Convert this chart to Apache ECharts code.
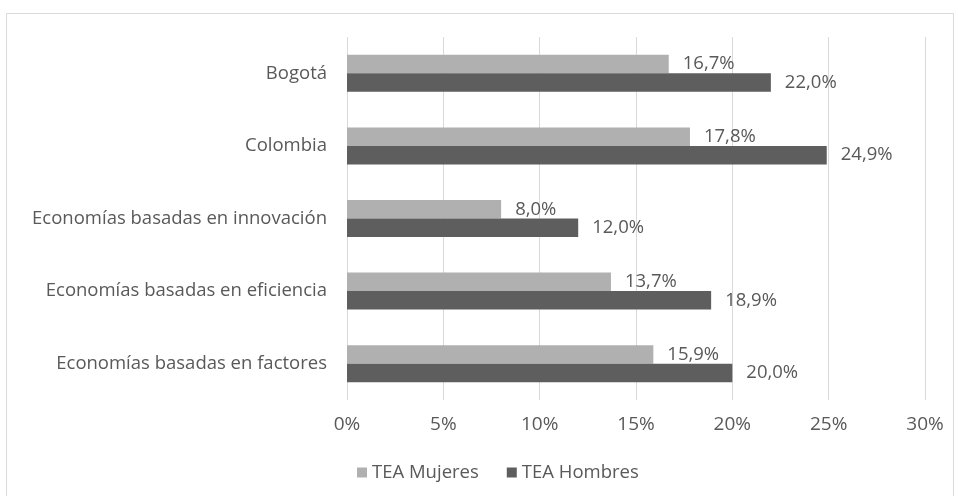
<!DOCTYPE html>
<html>
<head>
<meta charset="utf-8">
<script src="https://cdn.jsdelivr.net/npm/echarts@6/dist/echarts.min.js"></script>
<style>
  html, body { margin: 0; padding: 0; background: #ffffff; }
  #chart { width: 958px; height: 496px; }
</style>
</head>
<body>
<div id="chart"></div>
<script>
// Categories, listed top to bottom
const categories = [
  'Bogotá',
  'Colombia',
  'Economías basadas en innovación',
  'Economías basadas en eficiencia',
  'Economías basadas en factores'
];
// TEA (%) by sex
const teaMujeres = [16.7, 17.8, 8.0, 13.7, 15.9];
const teaHombres = [22.0, 24.9, 12.0, 18.9, 20.0];
const seriesNames = ['TEA Mujeres', 'TEA Hombres'];
// X axis ticks (%)
const xTicks = [0, 5, 10, 15, 20, 25, 30];

const fontFamily = '"Open Sans", "Noto Sans", sans-serif';
const textColor = '#595959';

const fmtPct = v => v.toFixed(1).replace('.', ',') + '%';

const chart = echarts.init(document.getElementById('chart'), null, { renderer: 'canvas' });

const barLabel = {
  show: true,
  position: 'right',
  distance: 14,
  color: textColor,
  fontFamily: fontFamily,
  fontSize: 18.5,
  formatter: p => fmtPct(p.value)
};

chart.setOption({
  animation: false,
  backgroundColor: '#ffffff',
  textStyle: { fontFamily: fontFamily },
  graphic: [{
    type: 'rect',
    silent: true,
    shape: { x: 6.5, y: 13.5, width: 947, height: 520 },
    style: { fill: 'none', stroke: '#d9d9d9', lineWidth: 1 }
  }],
  grid: { left: 347, right: 33, top: 37, bottom: 96, containLabel: false },
  legend: {
    data: seriesNames,
    top: 458,
    left: 352,
    icon: 'rect',
    itemWidth: 10,
    itemHeight: 10,
    itemGap: 28,
    textStyle: { color: textColor, fontSize: 18.5, fontFamily: fontFamily }
  },
  xAxis: {
    type: 'value',
    min: xTicks[0],
    max: xTicks[xTicks.length - 1],
    interval: 5,
    axisLine: { show: false },
    axisTick: { show: false },
    splitLine: { show: true, lineStyle: { color: '#d9d9d9', width: 1 } },
    axisLabel: {
      color: textColor,
      fontSize: 19,
      fontFamily: fontFamily,
      margin: 15,
      formatter: v => v + '%'
    }
  },
  yAxis: {
    type: 'category',
    data: categories,
    inverse: true,
    axisLine: { show: false },
    axisTick: { show: false },
    splitLine: { show: false },
    axisLabel: {
      color: textColor,
      fontSize: 18.5,
      fontFamily: fontFamily,
      margin: 20
    }
  },
  series: [
    {
      name: seriesNames[0],
      type: 'bar',
      data: teaMujeres,
      barWidth: 18.5,
      barGap: '0%',
      itemStyle: { color: '#b0b0b0' },
      label: barLabel
    },
    {
      name: seriesNames[1],
      type: 'bar',
      data: teaHombres,
      barWidth: 18.5,
      barGap: '0%',
      itemStyle: { color: '#5e5e5e' },
      label: barLabel
    }
  ]
});
</script>
</body>
</html>
